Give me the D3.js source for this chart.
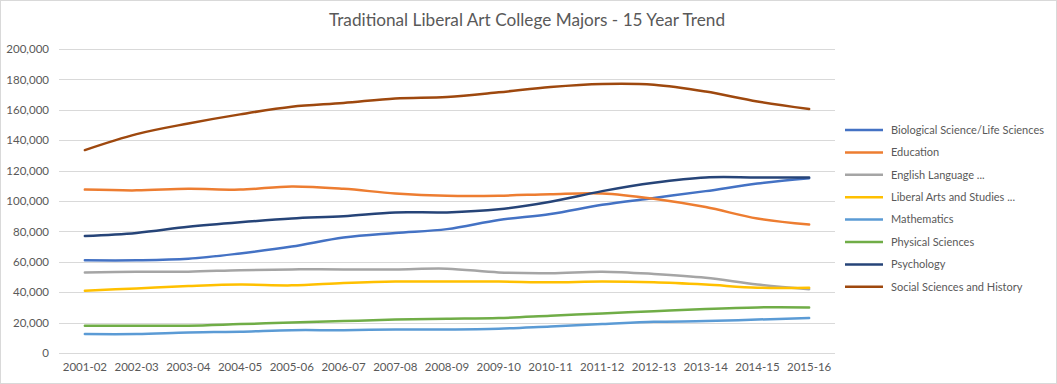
<!DOCTYPE html>
<html>
<head>
<meta charset="utf-8">
<script src="https://cdn.jsdelivr.net/npm/d3@7"></script>
<style>
  body { margin: 0; background: #fff; }
  text { font-family: Lato, "Open Sans", sans-serif; fill: #595959; }
</style>
</head>
<body>
<div id="chart"></div>
<script>
// academic years on the x axis
var years = ['2001-02','2002-03','2003-04','2004-05','2005-06','2006-07','2007-08','2008-09',
             '2009-10','2010-11','2011-12','2012-13','2013-14','2014-15','2015-16'];

// degrees conferred per major
var biological = [61000,61000,62000,65500,70000,76000,79000,81500,87500,91500,97500,102000,106500,111500,115000];
var education  = [107500,107000,108000,107500,109500,108000,105000,103500,103500,104500,105000,101500,96000,88500,84500];
var english    = [53000,53500,53500,54500,55000,55000,55000,55500,53000,52500,53500,52000,49500,45000,42000];
var liberal    = [41000,42500,44000,45000,44500,46000,47000,47000,47000,46500,47000,46500,45000,43000,43000];
var maths      = [12500,12500,13500,14000,15000,15000,15500,15500,16000,17500,19000,20500,21000,22000,23000];
var physical   = [18000,18000,18000,19000,20000,21000,22000,22500,23000,24500,26000,27500,29000,30000,30000];
var psychology = [77000,79000,83000,86000,88500,90000,92500,92500,94500,99500,106500,112000,115500,115500,115500];
var social     = [133500,144000,151000,157000,162000,164500,167500,168500,171500,175000,177000,176500,172000,165500,160500];

var seriesNames = ['Biological Science/Life Sciences','Education','English Language ...',
                   'Liberal Arts and Studies ...','Mathematics','Physical Sciences',
                   'Psychology','Social Sciences and History'];
var seriesValues = [biological, education, english, liberal, maths, physical, psychology, social];
var colors = ['#4472C4','#ED7D31','#A5A5A5','#FFC000','#5B9BD5','#70AD47','#264478','#9E480E'];

var yTicks = [0,20000,40000,60000,80000,100000,120000,140000,160000,180000,200000];

var width = 1057, height = 384;

var svg = d3.select('#chart').append('svg')
            .attr('width', width)
            .attr('height', height);

// outer chart border
svg.append('rect')
   .attr('x', 0.5).attr('y', 0.5)
   .attr('width', width - 1).attr('height', height - 1)
   .attr('fill', '#fff').attr('stroke', '#d9d9d9');

svg.append('text')
   .attr('x', 527).attr('y', 26)
   .attr('text-anchor', 'middle')
   .attr('font-size', 17.2)
   .text('Traditional Liberal Art College Majors - 15 Year Trend');

var x = d3.scaleBand().domain(years).range([59, 835]);
var y = d3.scaleLinear().domain([0, 200000]).range([353, 49]);

// gridlines
svg.append('g')
   .selectAll('line').data(yTicks)
   .enter().append('line')
   .attr('x1', 59).attr('x2', 835)
   .attr('y1', function(d){ return Math.round(y(d)) + 0.5; })
   .attr('y2', function(d){ return Math.round(y(d)) + 0.5; })
   .attr('stroke', '#d9d9d9');

var yAxis = svg.append('g')
   .attr('transform', 'translate(59,0)')
   .call(d3.axisLeft(y).tickValues(yTicks).tickSize(0).tickPadding(10).tickFormat(d3.format(',')));
yAxis.select('.domain').remove();
yAxis.selectAll('text').attr('font-size', 11.5).attr('fill', '#595959')
     .style('font-family', 'Lato, sans-serif');

var xAxis = svg.append('g')
   .attr('transform', 'translate(0,353)')
   .call(d3.axisBottom(x).tickSize(0).tickPadding(10));
xAxis.select('.domain').remove();
xAxis.selectAll('text').attr('font-size', 11.5).attr('fill', '#595959')
     .style('font-family', 'Lato, sans-serif');

var line = d3.line()
   .x(function(d, i){ return x(years[i]) + x.bandwidth() / 2; })
   .y(function(d){ return y(d); })
   .curve(d3.curveCatmullRom.alpha(0.5));

svg.append('g')
   .selectAll('path').data(seriesValues)
   .enter().append('path')
   .attr('d', line)
   .attr('fill', 'none')
   .attr('stroke', function(d, i){ return colors[i]; })
   .attr('stroke-width', 2.5)
   .attr('stroke-linecap', 'round');

// legend
var legend = svg.append('g')
   .selectAll('g').data(seriesNames)
   .enter().append('g')
   .attr('transform', function(d, i){ return 'translate(845,' + (130 + i * 22.4) + ')'; });

legend.append('line')
   .attr('x1', 0).attr('x2', 38)
   .attr('stroke', function(d, i){ return colors[i]; })
   .attr('stroke-width', 2.5);

legend.append('text')
   .attr('x', 46).attr('dy', '0.35em')
   .attr('font-size', 11)
   .text(function(d){ return d; });
</script>
</body>
</html>
